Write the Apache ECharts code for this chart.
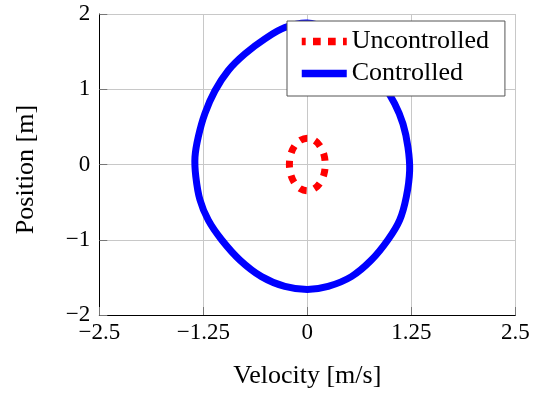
<!DOCTYPE html>
<html>
<head>
<meta charset="utf-8">
<script src="https://cdn.jsdelivr.net/npm/echarts@6/dist/echarts.min.js"></script>
<style>
html,body{margin:0;padding:0;background:#fff;}
#chart{width:545px;height:394px;}
</style>
</head>
<body>
<div id="chart"></div>
<script>
// Series names
const seriesNames = ['Uncontrolled', 'Controlled'];

// Uncontrolled trajectory (closed loop): [velocity, position]
const uncontrolled = [
  [-0.215, 0.00], [-0.199, 0.134], [-0.152, 0.247], [-0.082, 0.323], [0.00, 0.35],
  [0.082, 0.323], [0.152, 0.247], [0.199, 0.134], [0.215, 0.00],
  [0.199, -0.134], [0.152, -0.247], [0.082, -0.323], [0.00, -0.35],
  [-0.082, -0.323], [-0.152, -0.247], [-0.199, -0.134]
];

// Controlled trajectory (closed loop): [velocity, position]
const controlled = [
  [0.68, 1.40], [0.46, 1.63], [0.24, 1.80], [0.00, 1.88],
  [-0.27, 1.82], [-0.51, 1.67], [-0.75, 1.47], [-0.95, 1.25],
  [-1.11, 0.98], [-1.23, 0.68], [-1.31, 0.37], [-1.35, 0.10], [-1.34, -0.16],
  [-1.29, -0.47], [-1.19, -0.74], [-1.03, -1.00], [-0.81, -1.27], [-0.55, -1.49],
  [-0.27, -1.62], [0.00, -1.66], [0.25, -1.62], [0.53, -1.49], [0.77, -1.27],
  [0.97, -1.00], [1.11, -0.74], [1.19, -0.43], [1.23, -0.08], [1.21, 0.23],
  [1.15, 0.54], [1.05, 0.81], [0.88, 1.12]
];

// Axis settings
const xMin = -2.5, xMax = 2.5, xStep = 1.25;
const yMin = -2, yMax = 2, yStep = 1;
const xTitle = 'Velocity [m/s]';
const yTitle = 'Position [m]';

const fmt = v => {
  const s = String(Math.round(v * 100) / 100);
  return s.replace('-', '\u2212');
};

const chart = echarts.init(document.getElementById('chart'), null, {renderer: 'canvas'});
const serif = 'Liberation Serif, Times New Roman, serif';

const RED = '#ff0000', BLUE = '#0000ff';

// Closed smooth loop drawn through the cartesian axes (api.coord)
function loopRenderer(pointsData, style) {
  return function (params, api) {
    if (params.dataIndex !== 0) return null;
    const pts = pointsData.map(d => api.coord(d));
    return {
      type: 'polygon',
      silent: true,
      shape: {points: pts, smooth: 0.35},
      style: Object.assign({fill: 'none'}, style)
    };
  };
}

chart.setOption({
  animation: false,
  backgroundColor: '#fff',
  grid: {left: 99.3, right: 29.7, top: 14, bottom: 78},
  legend: {
    orient: 'vertical',
    left: 287,
    top: 21,
    padding: [7.5, 16, 9.5, 11],
    itemWidth: 45,
    itemHeight: 26,
    itemGap: 6,
    itemTextGap: 10,
    backgroundColor: '#fff',
    borderColor: '#555',
    borderWidth: 1,
    borderRadius: 0,
    textStyle: {fontFamily: serif, fontSize: 26, color: '#000', lineHeight: 26},
    data: [
      {name: seriesNames[0], itemStyle: {opacity: 0}, lineStyle: {width: 7.5, type: [7.7, 7.3], cap: 'butt'}},
      {name: seriesNames[1], itemStyle: {opacity: 0}, lineStyle: {width: 7.5, type: 'solid'}}
    ]
  },
  xAxis: {
    type: 'value',
    min: xMin, max: xMax, interval: xStep,
    name: xTitle,
    nameLocation: 'middle',
    nameGap: 48,
    nameTextStyle: {fontFamily: serif, fontSize: 26, color: '#000'},
    axisLine: {show: true, onZero: false, lineStyle: {color: '#000', width: 1}},
    axisTick: {show: true, inside: true, length: 8, lineStyle: {color: '#777'}},
    axisLabel: {fontFamily: serif, fontSize: 23, color: '#000', margin: 6, formatter: fmt},
    splitLine: {show: true, lineStyle: {color: '#c8c8c8', width: 1}}
  },
  yAxis: {
    type: 'value',
    min: yMin, max: yMax, interval: yStep,
    name: yTitle,
    nameLocation: 'middle',
    nameGap: 60,
    nameTextStyle: {fontFamily: serif, fontSize: 26, color: '#000', padding: [0, 10, 0, 0]},
    axisLine: {show: true, onZero: false, lineStyle: {color: '#000', width: 1}},
    axisTick: {show: true, inside: true, length: 8, lineStyle: {color: '#777'}},
    axisLabel: {fontFamily: serif, fontSize: 23, color: '#000', margin: 9, formatter: fmt},
    splitLine: {show: true, lineStyle: {color: '#c8c8c8', width: 1}}
  },
  series: [
    // legend entries (line-style icons)
    {
      name: seriesNames[0], type: 'line', data: [], symbol: 'none',
      lineStyle: {color: RED, width: 7, type: [7.5, 8.1]}, itemStyle: {color: RED}
    },
    {
      name: seriesNames[1], type: 'line', data: [], symbol: 'none',
      lineStyle: {color: BLUE, width: 7}, itemStyle: {color: BLUE}
    },
    // trajectories
    {
      name: seriesNames[1],
      type: 'custom',
      coordinateSystem: 'cartesian2d',
      data: controlled,
      encode: {x: 0, y: 1},
      clip: false,
      itemStyle: {color: BLUE},
      renderItem: loopRenderer(controlled, {stroke: BLUE, lineWidth: 7, lineJoin: 'round'}),
      z: 2
    },
    {
      name: seriesNames[0],
      type: 'custom',
      coordinateSystem: 'cartesian2d',
      data: uncontrolled,
      encode: {x: 0, y: 1},
      clip: false,
      itemStyle: {color: RED},
      renderItem: loopRenderer(uncontrolled, {stroke: RED, lineWidth: 7, lineDash: [7.5, 8.1], lineDashOffset: 3.75, lineCap: 'butt'}),
      z: 3
    }
  ]
});
</script>
</body>
</html>
